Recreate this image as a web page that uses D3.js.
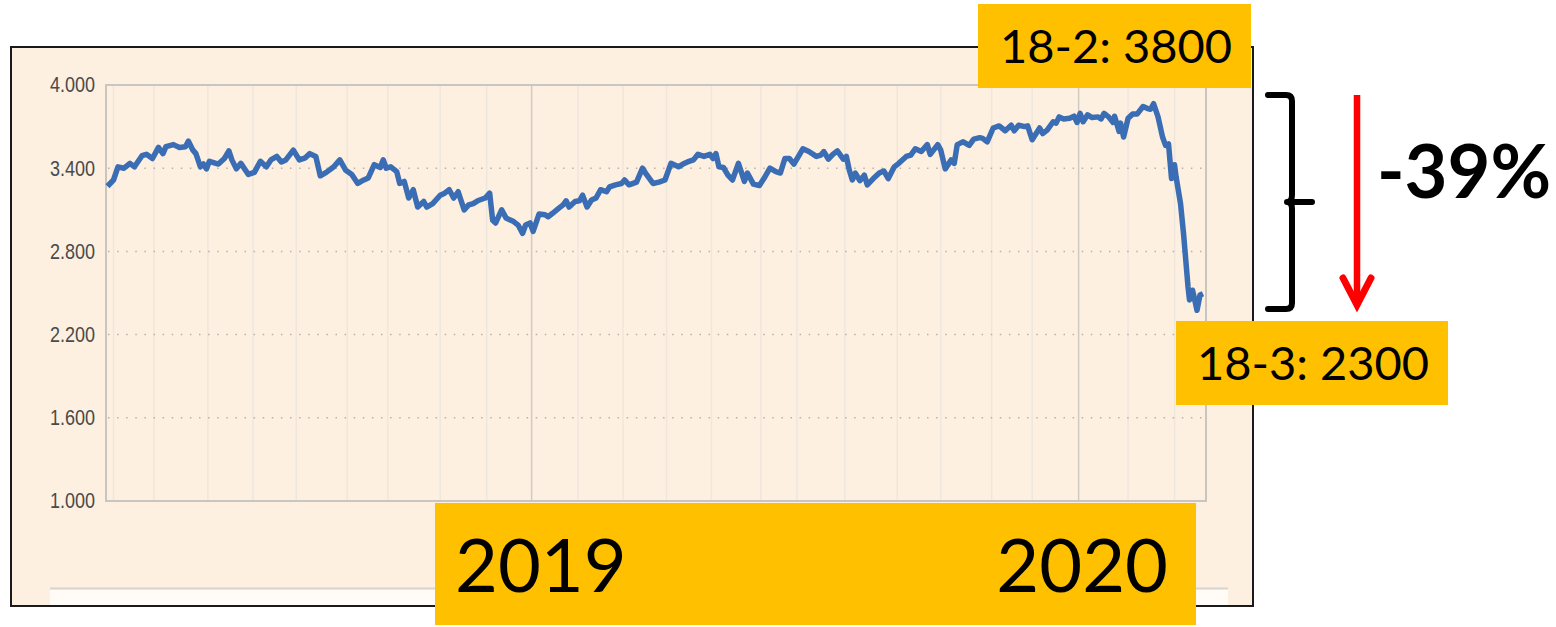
<!DOCTYPE html>
<html>
<head>
<meta charset="utf-8">
<script src="https://cdn.jsdelivr.net/npm/d3@7"></script>
<style>
  body { margin: 0; background: #fff; }
  svg { display: block; }
</style>
</head>
<body>
<svg id="chart" width="1556" height="627"></svg>
<script>
// data start date; each series point is a day offset from it
var startDate = new Date(2018, 2, 23);
var dayCount = 734;

var yTicks = [1000, 1600, 2200, 2800, 3400, 4000];

// month gridlines in the original chart (day offsets), years in bold
var gridDays = [5, 32, 68, 98, 127, 161, 188, 223, 254, 284, 315, 345, 374,
  404, 437, 461, 493, 528, 557, 591, 618, 649, 682, 713];
var yearDays = [284, 649];

var days = [1,5,8,12,16,19,24,27,31,35,38,40,45,49,53,55,58,60,63,65,
  67,69,75,79,82,84,87,90,95,99,103,107,110,114,117,120,125,129,133,136,
  140,143,147,152,156,160,164,168,172,175,179,183,185,187,190,194,196,
  199,202,205,208,212,214,218,223,226,229,232,235,239,242,245,248,253,256,258,260,
  264,267,272,275,278,280,283,285,289,293,295,298,302,305,307,309,313,316,318,321,
  324,327,330,334,336,340,344,346,349,354,358,360,365,369,373,377,382,385,388,
  392,395,399,403,405,407,409,412,415,418,422,426,428,432,436,439,443,447,450,453,
  456,459,465,469,474,477,479,482,485,488,492,494,496,498,500,503,506,508,512,516,
  519,522,526,529,534,537,540,544,548,550,555,557,560,564,566,568,572,576,579,583,
  585,588,592,596,600,604,606,609,613,615,618,623,625,628,632,634,636,639,643,646,
  648,650,652,655,658,662,664,666,669,672,673,676,677,679,682,685,688,692,695,697,
  699,702,705,707,709,711,713,714,717,719,722,723,725,727,728,730,732];

var values = [3270,3315,3410,3400,3435,3410,3490,3500,3470,3550,3505,3555,3570,3550,3555,3595,3530,3505,3410,3430,
  3395,3450,3430,3470,3525,3460,3395,3435,3355,3370,3450,3410,3460,3485,3445,3460,3530,3460,3475,3505,
  3485,3345,3370,3410,3460,3385,3355,3290,3315,3330,3425,3405,3460,3400,3410,3375,3290,
  3305,3185,3245,3120,3160,3120,3145,3205,3220,3245,3185,3230,3100,3135,3145,3165,3185,3220,3025,3005,
  3100,3040,3015,2990,2930,2990,3005,2945,3070,3065,3050,3075,3110,3135,3165,3120,3160,3165,3205,3120,
  3170,3185,3245,3230,3265,3280,3290,3315,3280,3300,3400,3365,3290,3300,3315,3435,3410,3430,3445,
  3460,3500,3485,3500,3470,3505,3410,3405,3350,3315,3435,3305,3365,3285,3275,3325,3400,3375,3365,3470,
  3470,3430,3540,3520,3485,3495,3520,3465,3500,3525,3465,3485,3385,3315,3365,3310,3350,3280,3325,3365,
  3380,3325,3410,3435,3485,3495,3540,3520,3570,3500,3570,3530,3395,3460,3435,3570,3590,3565,3610,3620,
  3615,3590,3690,3705,3670,3710,3670,3710,3700,3705,3605,3690,3650,3675,3735,3725,3770,3755,3760,3775,
  3730,3795,3735,3785,3765,3770,3755,3795,3770,3730,3775,3665,3725,3625,3760,3790,3790,3845,3830,3825,
  3865,3770,3625,3565,3575,3325,3425,3340,3145,2930,2545,2450,2520,2425,2375,2485,2495];

var topLabel = "18-2: 3800";
var bottomLabel = "18-3: 2300";
var yearLabels = ["2019", "2020"];
var changeLabel = "-39%";

var svg = d3.select("#chart");

/*** Outer panel ***/
svg.append("rect")
  .attr("x", 11).attr("y", 47)
  .attr("width", 1242).attr("height", 559)
  .attr("fill", "#fdf0e0")
  .attr("stroke", "#1a1a1a")
  .attr("stroke-width", 2);

svg.append("rect")
  .attr("x", 50).attr("y", 589)
  .attr("width", 1178).attr("height", 16)
  .attr("fill", "#fffbf6");
svg.append("line")
  .attr("x1", 50).attr("x2", 1228)
  .attr("y1", 588.5).attr("y2", 588.5)
  .attr("stroke", "#d9d3cc").attr("stroke-width", 2);

/*** Scales ***/
var xScale = d3.scaleTime()
  .domain([startDate, d3.timeDay.offset(startDate, dayCount)])
  .range([106, 1206]);

var yScale = d3.scaleLinear()
  .domain([1000, 4000])
  .range([501, 85]);

var dayToDate = (d) => d3.timeDay.offset(startDate, d);

/*** Grid ***/
svg.append("g")
  .selectAll("line")
  .data(gridDays)
  .join("line")
  .attr("x1", (d) => xScale(dayToDate(d)))
  .attr("x2", (d) => xScale(dayToDate(d)))
  .attr("y1", 85).attr("y2", 501)
  .attr("stroke", (d) => yearDays.includes(d) ? "#cfcac4" : "#efe6dc")
  .attr("stroke-width", 1.5);

svg.append("g")
  .selectAll("line")
  .data(yTicks.slice(1, -1))
  .join("line")
  .attr("x1", 108).attr("x2", 1204)
  .attr("y1", (d) => yScale(d))
  .attr("y2", (d) => yScale(d))
  .attr("stroke", "#b9b1a8")
  .attr("stroke-width", 1.5)
  .attr("stroke-dasharray", "1.5,7.6");

svg.append("rect")
  .attr("x", 106).attr("y", 85)
  .attr("width", 1100).attr("height", 416)
  .attr("fill", "none")
  .attr("stroke", "#c9c5c0")
  .attr("stroke-width", 2);

/*** Y axis ***/
var locale = d3.formatLocale({ decimal: ",", thousands: ".", grouping: [3], currency: ["", ""] });

var yAxis = d3.axisLeft(yScale)
  .tickValues(yTicks)
  .tickSize(0)
  .tickPadding(5)
  .tickFormat(locale.format(",d"));

var yG = svg.append("g")
  .attr("transform", "translate(100,0)")
  .call(yAxis);
yG.select(".domain").remove();
yG.selectAll("text")
  .attr("dy", null)
  .attr("y", 5.8)
  .attr("transform", "scale(1,1.2)")
  .attr("fill", "#4a4a4a")
  .style("font-family", "'Liberation Sans', Arial, sans-serif")
  .style("font-size", "18px");

/*** Line ***/
var line = d3.line()
  .x((d, i) => xScale(dayToDate(days[i])))
  .y((d) => yScale(d));

svg.append("path")
  .datum(values)
  .attr("d", line)
  .attr("fill", "none")
  .attr("stroke", "#3a6db4")
  .attr("stroke-width", 5.5)
  .attr("stroke-linejoin", "round");

/*** Annotations ***/
var ann = svg.append("g")
  .style("font-family", "Lato, 'Open Sans', sans-serif");

ann.append("rect")
  .attr("x", 978).attr("y", 4).attr("width", 273).attr("height", 84)
  .attr("fill", "#ffc000");
ann.append("text")
  .attr("x", 1000).attr("y", 63)
  .style("font-size", "47px")
  .text(topLabel);

ann.append("rect")
  .attr("x", 1176).attr("y", 321).attr("width", 272).attr("height", 84)
  .attr("fill", "#ffc000");
ann.append("text")
  .attr("x", 1197).attr("y", 380)
  .style("font-size", "47px")
  .text(bottomLabel);

ann.append("rect")
  .attr("x", 435).attr("y", 503).attr("width", 761).attr("height", 122)
  .attr("fill", "#ffc000");
ann.append("text")
  .attr("x", 455).attr("y", 592)
  .style("font-size", "74px")
  .text(yearLabels[0]);
ann.append("text")
  .attr("x", 1168).attr("y", 592)
  .attr("text-anchor", "end")
  .style("font-size", "74px")
  .text(yearLabels[1]);

// brace
ann.append("path")
  .attr("d", "M1268,95 L1286,95 Q1292,95 1292,101 L1292,195 Q1292,202 1287,202 L1312,202 M1287,202 Q1292,202 1292,209 L1292,303 Q1292,309 1286,309 L1268,309")
  .attr("fill", "none")
  .attr("stroke", "#000")
  .attr("stroke-width", 6)
  .attr("stroke-linecap", "round")
  .attr("stroke-linejoin", "round");

// red arrow
ann.append("line")
  .attr("x1", 1357).attr("x2", 1357)
  .attr("y1", 95).attr("y2", 304)
  .attr("stroke", "#ff0000")
  .attr("stroke-width", 6.5);
ann.append("path")
  .attr("d", "M1343,278 L1357,305 L1371,278")
  .attr("fill", "none")
  .attr("stroke", "#ff0000")
  .attr("stroke-width", 7)
  .attr("stroke-linecap", "round")
  .attr("stroke-linejoin", "miter");

ann.append("text")
  .attr("x", 1377).attr("y", 198)
  .style("font-size", "74px")
  .style("font-weight", "700")
  .text(changeLabel);
</script>
</body>
</html>
